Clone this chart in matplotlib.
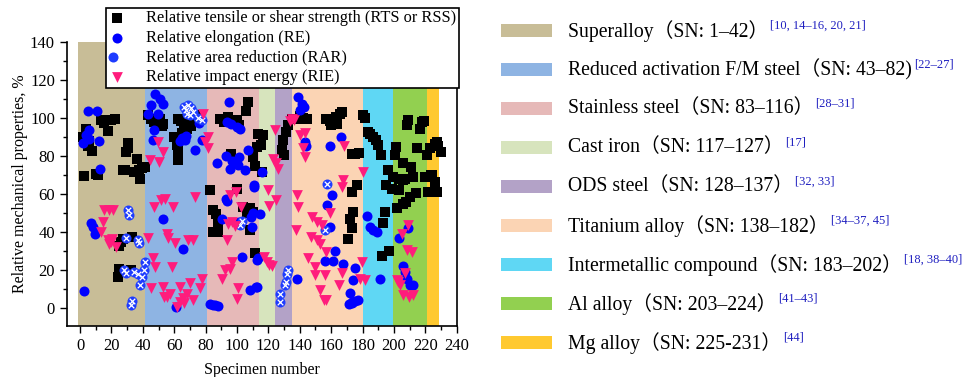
import matplotlib
matplotlib.use("Agg")
import matplotlib.pyplot as plt
from matplotlib.patches import Rectangle
from matplotlib.legend_handler import HandlerTuple
from matplotlib.ticker import MultipleLocator

plt.rcParams['font.family'] = ['Liberation Serif', 'Noto Sans CJK SC']

# material groups: band edges along specimen number, colours, legend text
band_edges = [-1.5, 41.5, 81, 114, 124.5, 135, 180, 199.5, 221, 229]
band_colors = ['#C8BD97', '#8EB4E3', '#E6B9B8', '#D7E4BD', '#B3A2C7',
               '#FBD4B4', '#5FD7F4', '#92D050', '#FFC930']
group_names = ['Superalloy（SN: 1–42）', 'Reduced activation F/M steel（SN: 43–82)',
               'Stainless steel（SN: 83–116）', 'Cast iron（SN: 117–127）',
               'ODS steel（SN: 128–137）', 'Titanium alloy（SN: 138–182）',
               'Intermetallic compound（SN: 183–202）', 'Al alloy（SN: 203–224）',
               'Mg alloy（SN: 225-231）']
group_refs = ['[10, 14–16, 20, 21]', '[22–27]', '[28–31]', '[17]', '[32, 33]',
              '[34–37, 45]', '[18, 38–40]', '[41–43]', '[44]']

# relative tensile / shear strength
rts_x = [1.7, 3.9, 4.9, 7.6, 2.8, 10.2, 11.2, 6, 13.4, 16.6, 19.7, 22.5, 15, 17.6,
         30.4, 30.4, 29.3, 36.1, 27.6, 28.8, 34.6, 37.8, 41.6, 39.8, 38.2,
         26.1, 27.2, 33.1, 25, 24.6, 24, 32.5,
         43.1, 45.5, 47, 48.5, 50, 52, 53.1, 51, 62.6, 64.5, 66, 69.1, 72.2, 74.4, 67.9, 71,
         61.6, 62.6, 62.6, 60, 65,
         107.2, 105.7, 89.2, 91.5, 94.5, 96.5, 99.8, 101.5, 96, 82.8, 85, 86.5, 88.1, 85,
         88.1, 86.5, 99.8, 108.2, 106.5, 111.5, 112.6, 110.5, 113.7, 111.5, 108.3, 110, 104,
         116.5, 115.5, 115.7,
         128.5, 129.5, 131, 132.7, 134.8, 130,
         138, 140, 142, 144.4, 156.9, 159, 160, 161.5, 163.3, 165.4, 166.9, 164,
         173.5, 175.2, 177.5, 180.1, 181.3, 176.3, 173.1, 174.2, 172, 173.1, 171,
         183.7, 186.5, 188.6, 190, 191.6, 196.5, 199.2, 195.1, 198.7, 194.3, 193.2, 197.1, 192.2, 185,
         201.3, 200.7, 205.5, 211.2, 209.2, 208.5, 216.6, 217.7, 219, 203.4, 205.5, 207.1, 212,
         203.4, 210.2, 214, 206, 202.2, 214.9, 208,
         221.3, 223, 226.2, 227.7, 229.8, 228, 219.8, 224.2, 226.2, 221.9, 227.6, 223.5]
rts_y = [90, 94.4, 85, 82.5, 69.3, 70.7, 69.8, 88, 98.8, 98.8, 98.8, 99.5, 97.5, 93,
         86.8, 83.9, 82.1, 78.6, 72.8, 72.8, 71.6, 72.5, 74.2, 73.5, 68,
         34.7, 36, 37.4, 32.5, 20.2, 16.3, 19.8,
         101.4, 99.6, 98, 97, 96.5, 96, 97, 99.5, 99.6, 98.5, 97, 99.6, 100.5, 101.4, 94.4, 96,
         85.6, 83, 77.7, 90, 92,
         108.4, 103.7, 99.6, 98, 100.5, 98, 98.8, 96.5, 81.2, 61.9, 51.4, 49.5, 45.3, 40,
         40, 40, 62.8, 40.9, 50, 28.9, 84.7, 79.5, 91.4, 74.5, 52.3, 50.5, 53,
         91, 85.5, 71.6,
         83, 88.2, 92.6, 96.1, 99.6, 80.5,
         99.6, 101, 100, 99.6, 99.6, 98.5, 96.1, 99, 100.5, 102.3, 103.2, 97,
         81.2, 81.2, 81.5, 101.4, 99.8, 64.6, 61, 50.5, 47, 41.8, 36,
         92.6, 90, 88.2, 85.6, 80.4, 72.5, 68.9, 64.6, 62.8, 50.5, 44.4, 30, 27.2, 91.5,
         84.7, 80.4, 76.3, 73.9, 98.8, 96.5, 94.4, 97.9, 98.5, 68, 67.5, 68, 68.9,
         61.9, 58.4, 60.2, 54.9, 52.3, 83.9, 55.5,
         80.4, 83.9, 86.5, 87.4, 82.1, 85, 68.9, 69.8, 66.3, 61, 61, 70]

# relative elongation
re_x = [4.9, 10.6, 5.5, 3.8, 1.7, 6, 11.9, 12.7, 7, 8.1, 9.8, 2.8,
        48, 51, 52.6, 45.2, 43.1, 49.5, 47.4, 46.8, 53, 66.9, 65, 63.7, 67.5, 73.3, 77.5,
        65.4, 61.2, 76,
        95.2, 93.5, 96, 99.8, 101.9, 93.1, 96.6, 101.5, 107.2, 111.1, 92.8, 93.5, 110.1, 109,
        101.5, 103.2, 113, 108.2, 111.9, 82.8, 84.5, 86, 88.1,
        87, 95.6, 100.9, 105, 110.8, 90.3, 109.4,
        116.2, 114.7, 113.6, 112.5,
        138.6, 141.2, 140, 142.9, 143.3, 144, 159, 166.2, 160.4, 157.6, 159.2, 162.4, 156, 161,
        167.3, 138.2, 171.5, 173, 175.2, 174.2, 173.1, 175, 177.3, 172,
        182.6, 184.8, 186.9, 189, 191.2,
        209.2, 203.4, 206, 207, 208.2, 210.2, 212.3]
re_y = [103.7, 103.7, 93.5, 90.9, 86.8, 89, 87.7, 73.3, 44.4, 42.6, 39.1, 8.9,
        112.8, 110, 107.5, 106.7, 102.3, 102.3, 93.5, 88.2, 47, 88.2, 89.5, 88, 90.5, 83, 88.2,
        30.7, 0.5, 97.5,
        108.4, 97.9, 97, 95.3, 94.4, 80.2, 77.4, 79.5, 83, 63.7, 57.5, 56, 50, 48,
        45.3, 26.8, 25.4, 9.3, 11, 1.9, 1.4, 1.2, 0.9,
        76, 73.3, 75, 72.5, 64.6, 46.5, 42.6,
        71.6, 49.6, 26, 11,
        111, 107.5, 104, 105.8, 87.4, 85, 85, 90, 59.3, 54, 42.6, 30, 24.7, 24.5,
        23.3, 14.9, 1.9, 2.5, 20.7, 14.6, 3.2, 3.5, 4, 8,
        48.2, 42.6, 40.9, 40, 15.4,
        41.8, 36.5, 21.9, 19, 15.4, 11.9, 11.9]

# relative area reduction
rar_x = [30.4, 31.4, 29.3, 36.7, 37.8, 28.2, 29.3, 34.6, 36.7, 39.5, 41, 41.6, 38.2, 33.1, 32.5,
         66, 67.5, 69.1, 71, 72.2, 70, 68, 77.5, 75,
         101.9, 103,
         132.7, 131.8, 130.6, 131, 127.7, 127.1,
         157.6, 156]
rar_y = [51.4, 48.8, 36.5, 35.6, 33.9, 19.8, 18.5, 18.9, 18, 16.3, 19.8, 24.2, 11.9, 3.7, 1.4,
         106, 104, 106.7, 105, 103, 101.5, 102, 98.8, 100,
         43.5, 45.5,
         19.8, 18, 11.9, 13.5, 7.2, 3.2,
         65.4, 41.2]

# relative impact energy
rie_x = [15.5, 18.7, 21.2, 14.4, 13.4, 17.6, 19.7, 22.9, 18.2, 20.5,
         43.1, 46.3, 48, 45.2, 53.7, 47.4, 51.6, 44.6, 50.1, 52.6, 49.5, 54.2, 59.5, 73.3,
         55.2, 56.3, 60.5, 69, 72.2, 58.4, 53.1, 57.3, 63.7, 67.9, 70.1, 76.4, 77.5, 63.7,
         65.5, 66.5, 72.2, 55.2, 61.5, 81.8, 79.7, 81.8, 78.6,
         99.4, 95.6, 102.5, 96.6, 98.5, 94.5, 93.5, 96.6, 92.4, 90.3, 95.5, 100.8, 99.8,
         124.2, 123.2, 125, 126, 119.6, 120.7, 124.9, 117.4, 119, 120.5, 122.1,
         133.5, 134.8, 136.5, 140.1, 143.3, 142.3, 143.3, 138.2, 139.1, 137.5, 148.1, 150.9,
         154, 147.3, 150.9, 153, 145.2, 149.9, 149.5, 156.3, 152.7, 155.5, 157, 159, 156.9,
         167.3, 166.7, 168.3, 165.2, 166.7,
         180.5, 179.4, 178.3, 181.5,
         209.2, 205, 208.2, 211.4, 207.1, 201.8, 203.9, 206, 209.8, 211.9, 202.5]
rie_y = [51.4, 51.4, 51.4, 45.3, 40, 35.6, 34.7, 32.1, 33.5, 36,
         36.5, 26, 21.6, 10.2, 5.8, 53.2, 56.7, 78, 76.8, 82, 87.4, 57.5, 53.2, 58.4,
         39.1, 36.5, 33.9, 35.6, 35.6, 21.6, 11, 7.5, 11, 7.5, 12.8, 10.2, 15.4, 3.2,
         5, 2.5, 4, 5.8, 0.5, 90, 87.4, 83.9, 102.3,
         61, 59.3, 53.2, 45.3, 43, 44, 35.6, 24.2, 19.8, 15.4, 20.5, 10.2, 4.4,
         93.9, 78.6, 76.5, 73.3, 61.9, 53.5, 56.7, 26.8, 24, 22.5, 21.9,
         98.5, 99.6, 98.8, 90.9, 91.8, 83.9, 79.5, 59.3, 53.2, 40.9, 47.9, 45.3,
         43.5, 37.4, 35.6, 33.5, 26, 21.6, 17.2, 17.2, 9.3, 4, 4, 50, 29.5,
         67.5, 63.7, 85, 11.9, 18.4,
         71.6, 24.2, 15.4, 14.6,
         43.5, 39.1, 30.4, 29.5, 18.4, 14.6, 11.9, 6.7, 5.8, 6.7, 13.5]

fig = plt.figure(figsize=(9.75, 3.77), dpi=100)
ax = fig.add_axes([0.0684, 0.1353, 0.4000, 0.7533])

for i in range(len(band_colors)):
    ax.axvspan(band_edges[i], band_edges[i + 1], color=band_colors[i], lw=0, zorder=0)

h1 = ax.scatter(rts_x, rts_y, marker='s', s=55, c='black', lw=0, zorder=3)
h2 = ax.scatter(re_x, re_y, marker='o', s=52, c='#0000FF', lw=0, zorder=3)
h3a = ax.scatter(rar_x, rar_y, marker='o', s=52, c='#1E3CFF', lw=0, zorder=3)
h3b = ax.scatter(rar_x, rar_y, marker='x', s=16, c='white', lw=0.9, zorder=3)
h4 = ax.scatter(rie_x, rie_y, marker='v', s=60, c='#FF1C7C', lw=0, zorder=3)

ax.set_xlim(-8.5, 240)
ax.set_ylim(-9.6, 140)
ax.xaxis.set_major_locator(MultipleLocator(20))
ax.xaxis.set_minor_locator(MultipleLocator(10))
ax.yaxis.set_major_locator(MultipleLocator(20))
ax.yaxis.set_minor_locator(MultipleLocator(10))
ax.tick_params(which='both', direction='out', top=False, right=False, labelsize=12)
ax.tick_params(which='major', length=5, width=1)
ax.tick_params(which='minor', length=3, width=1)
for sp in ax.spines.values():
    sp.set_linewidth(1.2)
ax.spines['top'].set_visible(False)
ax.set_xlabel('Specimen number', fontsize=11.5, labelpad=6)
ax.set_ylabel('Relative mechanical properties, %', fontsize=11.5, labelpad=1)

leg = ax.legend([h1, h2, (h3a, h3b), h4],
                ['Relative tensile or shear strength (RTS or RSS)',
                 'Relative elongation (RE)',
                 'Relative area reduction (RAR)',
                 'Relative impact energy (RIE)'],
                handler_map={tuple: HandlerTuple(ndivide=None, pad=0)},
                loc='upper left', bbox_to_anchor=(0.101, 1.12), borderaxespad=0,
                fontsize=11.8, frameon=True, fancybox=False, framealpha=1,
                edgecolor='black', handlelength=1.0, handletextpad=1.3,
                labelspacing=0.22, borderpad=0.15, scatterpoints=1)
leg.get_frame().set_linewidth(1.2)
leg.set_zorder(5)

# material legend on the right
fig.canvas.draw()
renderer = fig.canvas.get_renderer()
row_y = 1 - 30.7 / 377
row_step = 39.0 / 377
for i in range(len(group_names)):
    yc = row_y - i * row_step
    fig.add_artist(Rectangle((500.7 / 975, yc - 6.5 / 377), 51.5 / 975, 13 / 377,
                             transform=fig.transFigure, facecolor=band_colors[i], lw=0))
    t = fig.text(568 / 975, yc, group_names[i], fontsize=14.2, va='center', ha='left')
    bb = t.get_window_extent(renderer)
    fig.text(bb.x1 / 975 + 2 / 975, yc + 5 / 377, group_refs[i], fontsize=9,
             color='#2020C0', va='center', ha='left')

plt.savefig('out.png', dpi=100)
